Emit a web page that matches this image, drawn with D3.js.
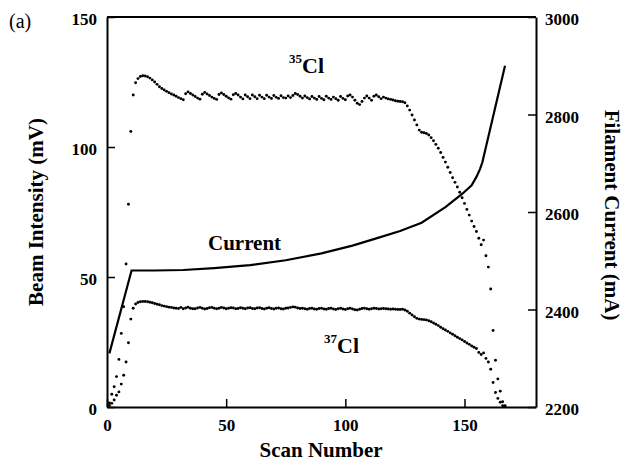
<!DOCTYPE html>
<html>
<head>
<meta charset="utf-8">
<script src="https://cdn.jsdelivr.net/npm/d3@7"></script>
<style>
  body { margin: 0; background: #fff; }
  text { font-family: "Liberation Serif", "Times New Roman", serif; }
</style>
</head>
<body>
<div id="chart"></div>
<script>
// beam intensity (mV) per scan, scan 1..167
var cl35 = [1.6, 4.9, 7.8, 11.7, 18.3, 28.3, 38.6, 55, 78, 106,
  120, 124.7, 126.3, 127.1, 127.4, 127.3, 127, 126.5, 125.8, 125,
  124.1, 123.2, 122.5, 121.9, 121.4, 120.9, 120.4, 120, 119.5, 119,
  118.6, 118.2, 120.5, 121.2, 120.6, 120, 119.4, 118.8, 118.4, 120.3,
  121, 120.4, 119.8, 119.2, 118.7, 118.3, 120.2, 120.8, 120.2, 119.5,
  118.9, 118.4, 120.1, 120.6, 120, 119.2, 118.5, 120, 119.3, 118.6,
  120, 119.3, 118.6, 119.9, 119.2, 118.6, 119.9, 119.2, 118.7, 119.8,
  119.1, 118.7, 119.7, 119, 118.8, 119.6, 119, 119.8, 120.6, 120.2,
  119.5, 118.8, 119.6, 119, 118.5, 119.4, 118.8, 118.3, 119.4, 118.7,
  118.2, 119.5, 118.8, 118.3, 119.2, 118.6, 118, 119.4, 118.7, 118.2,
  119.6, 120, 119.2, 118, 116.8, 116.3, 117.5, 118.8, 119.6, 118.8,
  118, 119.5, 120, 119.3, 118.6, 119.2, 118.8, 118.5, 118.3, 118.1,
  117.8, 117.6, 117.5, 117.4, 117, 115.8, 114.2, 112.3, 110.4, 108.5,
  106.5, 105.7, 105.5, 105.2, 104.6, 103.6, 102.4, 101, 99.5, 97.9,
  96, 94.2, 92.2, 90.2, 88.2, 86.4, 84.6, 82.6, 80.5, 78.3,
  76, 73.8, 71.5, 69.4, 67.5, 64.9, 62.4, 64.2, 58.2, 53.8,
  45.4, 29.4, 18, 10.8, 6.1, 2, 0.5];

var cl37 = [0.6, 1.4, 2.7, 4.5, 5.8, 8.8, 12.2, 17.3, 24.7, 33.8,
  38, 39.6, 40.2, 40.5, 40.6, 40.6, 40.5, 40.3, 40.1, 39.8,
  39.5, 39.3, 39, 38.8, 38.6, 38.4, 38.3, 38.1, 38, 37.9,
  38.3, 37.8, 38.1, 38.4, 38, 37.8, 37.8, 38.1, 38.3, 38,
  37.7, 37.9, 38.2, 38.3, 38, 37.8, 38, 38.3, 38.1, 37.8,
  38, 38.2, 38.1, 37.8, 37.9, 38.2, 38, 37.8, 38.1, 38.2,
  37.9, 37.8, 38.1, 38.2, 37.9, 37.7, 38, 38.2, 37.9, 37.7,
  38, 38.1, 37.8, 37.7, 38, 38.1, 38.3, 38.5, 38.4, 38.1,
  37.9, 38, 37.8, 37.6, 37.9, 38, 37.7, 37.6, 37.9, 38,
  37.7, 37.6, 37.9, 38, 37.7, 37.5, 37.8, 38, 37.7, 37.5,
  37.8, 38, 37.7, 37.4, 37.3, 37.6, 37.9, 38, 37.8, 37.6,
  37.8, 38, 37.9, 37.7, 37.8, 37.9, 37.8, 37.7, 37.6, 37.7,
  37.6, 37.5, 37.5, 37.6, 37.3, 36.8, 36.1, 35.4, 34.7, 34.1,
  33.8, 33.7, 33.6, 33.5, 33.2, 32.8, 32.3, 31.8, 31.3, 30.7,
  30.1, 29.6, 29.1, 28.5, 28, 27.4, 26.8, 26.3, 25.8, 25.2,
  24.6, 24.1, 23.5, 23, 22.5, 21, 20.2, 20.8, 18.7, 17.3,
  14.5, 9.4, 5.6, 3.3, 1.8, 0.5, 0.2];

// filament current (mA)
var currentScan = [1, 10.3, 20, 32, 45, 60, 75, 90, 103, 113, 123, 132, 142, 149, 153, 155, 156.5, 157.5, 167];
var currentMA = [2310, 2480, 2480, 2481, 2485, 2491, 2501, 2515, 2531, 2546, 2561, 2578, 2610, 2637, 2655, 2672, 2688, 2702, 2900];

var xTicks = [0, 50, 100, 150];
var yTicks = [0, 50, 100, 150];
var cTicks = [2200, 2400, 2600, 2800, 3000];

var W = 627, H = 464;
var plotL = 107, plotR = 536, plotT = 17, plotB = 407;

var svg = d3.select("#chart").append("svg")
    .attr("width", W)
    .attr("height", H)
    .style("background", "#fff");

var x = d3.scaleLinear().domain([0, 180]).range([plotL, plotR]);
var y = d3.scaleLinear().domain([0, 150]).range([plotB, plotT]);
var yc = d3.scaleLinear().domain([2200, 3000]).range([plotB, plotT]);

// axes, ticks pointing inward
var gx = svg.append("g")
    .attr("transform", "translate(0," + plotB + ")")
    .call(d3.axisBottom(x).tickValues(xTicks).tickSize(-8).tickSizeOuter(0).tickPadding(12));
var gy = svg.append("g")
    .attr("transform", "translate(" + plotL + ",0)")
    .call(d3.axisLeft(y).tickValues(yTicks).tickSize(-8).tickSizeOuter(0).tickPadding(10));
var gc = svg.append("g")
    .attr("transform", "translate(" + plotR + ",0)")
    .call(d3.axisRight(yc).tickValues(cTicks).tickFormat(d3.format("d"))
      .tickSize(-8).tickSizeOuter(0).tickPadding(9));

[gx, gy, gc].forEach(function(g) {
  g.select(".domain").attr("stroke", "#000").attr("stroke-width", 2);
  g.selectAll(".tick line").attr("stroke", "#000").attr("stroke-width", 1.5);
  g.selectAll(".tick text")
    .attr("fill", "#000")
    .style("font-family", '"Liberation Serif", "Times New Roman", serif')
    .style("font-weight", "bold")
    .style("font-size", "17px");
});
gy.selectAll(".tick text").attr("dy", "7.5px");
gc.selectAll(".tick text").attr("dy", "7.5px");

// top border
svg.append("line")
    .attr("x1", plotL).attr("x2", plotR)
    .attr("y1", plotT).attr("y2", plotT)
    .attr("stroke", "#000").attr("stroke-width", 2);

// dots
svg.append("g").selectAll("circle.c35")
    .data(cl35)
  .enter().append("circle")
    .attr("class", "c35")
    .attr("cx", function(d, i) { return x(i + 1); })
    .attr("cy", function(d) { return y(d); })
    .attr("r", 1.45)
    .attr("fill", "#000");

svg.append("g").selectAll("circle.c37")
    .data(cl37)
  .enter().append("circle")
    .attr("class", "c37")
    .attr("cx", function(d, i) { return x(i + 1); })
    .attr("cy", function(d) { return y(d); })
    .attr("r", 1.45)
    .attr("fill", "#000");

// current line
var line = d3.line()
    .x(function(d, i) { return x(currentScan[i]); })
    .y(function(d) { return yc(d); });
svg.append("path")
    .datum(currentMA)
    .attr("d", line)
    .attr("fill", "none")
    .attr("stroke", "#000")
    .attr("stroke-width", 2.2);

// labels
svg.append("text")
    .attr("x", 9).attr("y", 28)
    .style("font-size", "20px")
    .text("(a)");

svg.append("text")
    .attr("transform", "translate(43,212) rotate(-90)")
    .attr("text-anchor", "middle")
    .style("font-size", "21px").style("font-weight", "bold")
    .text("Beam Intensity (mV)");

svg.append("text")
    .attr("transform", "translate(605,215) rotate(90)")
    .attr("text-anchor", "middle")
    .style("font-size", "21px").style("font-weight", "bold")
    .text("Filament Current (mA)");

svg.append("text")
    .attr("x", 321).attr("y", 457)
    .attr("text-anchor", "middle")
    .style("font-size", "21px").style("font-weight", "bold")
    .text("Scan Number");

svg.append("text")
    .attr("x", 208).attr("y", 250)
    .style("font-size", "21px").style("font-weight", "bold")
    .text("Current");

var t35 = svg.append("text")
    .attr("x", 289).attr("y", 73)
    .style("font-weight", "bold");
t35.append("tspan").attr("dy", -10).style("font-size", "13px").text("35");
t35.append("tspan").attr("dy", 10).style("font-size", "22px").text("Cl");

var t37 = svg.append("text")
    .attr("x", 324).attr("y", 353)
    .style("font-weight", "bold");
t37.append("tspan").attr("dy", -10).style("font-size", "13px").text("37");
t37.append("tspan").attr("dy", 10).style("font-size", "22px").text("Cl");
</script>
</body>
</html>
